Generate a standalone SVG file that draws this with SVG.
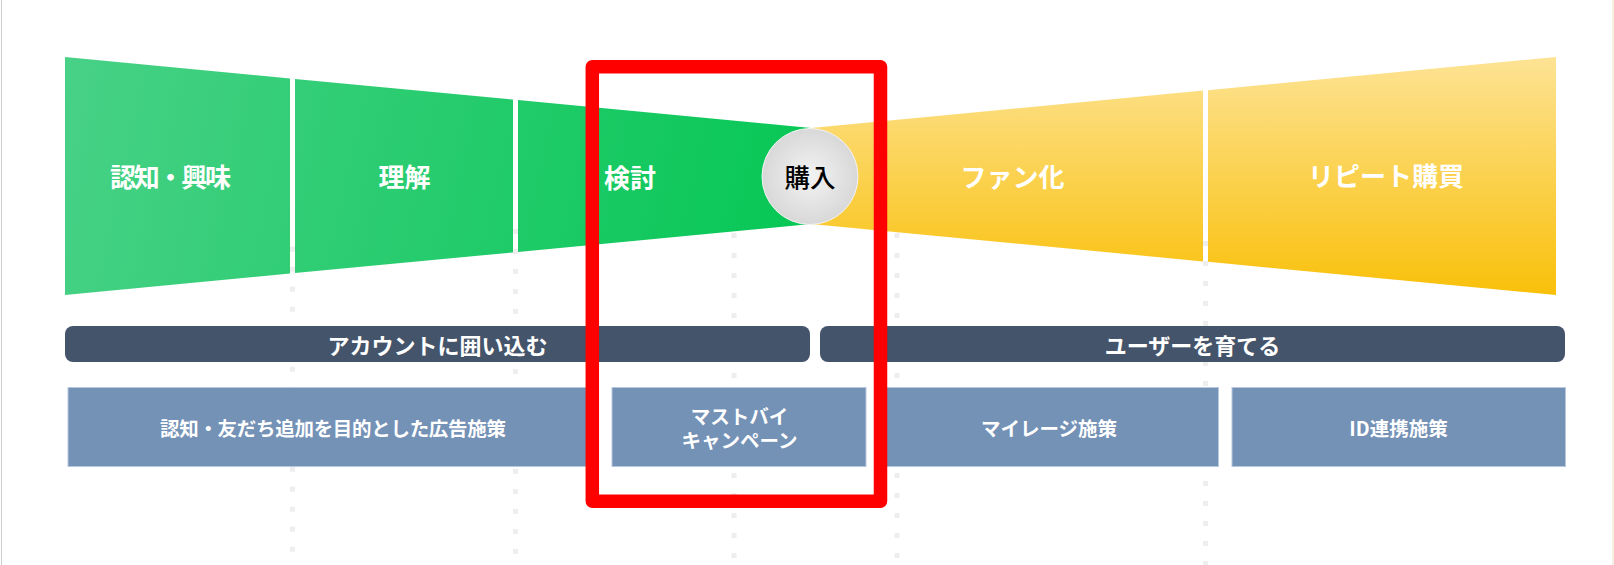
<svg xmlns="http://www.w3.org/2000/svg" width="1614" height="565" viewBox="0 0 1614 565">
  <defs>
    <linearGradient id="gGreen" gradientUnits="userSpaceOnUse" x1="65" y1="57" x2="811" y2="224">
      <stop offset="0" stop-color="#48D187"/>
      <stop offset="1" stop-color="#06C755"/>
    </linearGradient>
    <linearGradient id="gYellow" gradientUnits="userSpaceOnUse" x1="0" y1="57" x2="0" y2="295">
      <stop offset="0" stop-color="#FDE394"/>
      <stop offset="1" stop-color="#F9C00A"/>
    </linearGradient>
    <radialGradient id="gCircle" cx="0.5" cy="0.5" r="0.5">
      <stop offset="0" stop-color="#F3F3F3"/>
      <stop offset="1" stop-color="#D8D8D8"/>
    </radialGradient>
  </defs>
  <style>
    text { font-family: 'Noto Sans CJK JP', 'Noto Sans', sans-serif; text-anchor: middle; dominant-baseline: central; }
    .stage { fill: #FFFFFF; font-size: 26px; font-weight: bold; }
    .bar { fill: #44546A; }
    .barText { fill: #FFFFFF; font-size: 22px; font-weight: bold; }
    .box { fill: #7491B6; stroke: #B6C7DE; stroke-width: 1; }
    .boxText { fill: #FFFFFF; font-size: 19.5px; font-weight: bold; }
    .guide { stroke: #EEEEEE; stroke-width: 5; stroke-dasharray: 5 15; fill: none; }
  </style>

  <rect x="0" y="0" width="1614" height="565" fill="#FFFFFF"/>
  <line x1="1.5" y1="0" x2="1.5" y2="565" stroke="#CCCCCC" stroke-width="1"/>
  <line x1="1613" y1="0" x2="1613" y2="565" stroke="#F2EBD9" stroke-width="1.5"/>

  <g id="connectors">
    <line class="guide" x1="292.5" y1="246.7" x2="292.5" y2="565"/>
    <line class="guide" x1="515.5" y1="229" x2="515.5" y2="565"/>
    <line class="guide" x1="734" y1="233" x2="734" y2="565"/>
    <line class="guide" x1="897" y1="233" x2="897" y2="565"/>
    <line class="guide" x1="1205.5" y1="241" x2="1205.5" y2="565"/>
  </g>

  <g id="stage-ninchi">
    <polygon points="65,57 290,78.4 290,273.6 65,295" fill="url(#gGreen)"/>
    <text class="stage" x="170.5" y="175" textLength="121" lengthAdjust="spacing">認知・興味</text>
  </g>
  <g id="stage-rikai">
    <polygon points="295,78.9 513,99.6 513,252.4 295,273.1" fill="url(#gGreen)"/>
    <text class="stage" x="404.5" y="175">理解</text>
  </g>
  <g id="stage-kento">
    <polygon points="518,100.1 811,128 811,224 518,251.9" fill="url(#gGreen)"/>
    <text class="stage" x="630" y="176">検討</text>
  </g>
  <g id="stage-fan">
    <polygon points="811,128 1203,90.6 1203,261.4 811,224" fill="url(#gYellow)"/>
    <text class="stage" x="1012.5" y="175">ファン化</text>
  </g>
  <g id="stage-repeat">
    <polygon points="1208,90.2 1556,57 1556,295 1208,261.8" fill="url(#gYellow)"/>
    <text class="stage" x="1386" y="174">リピート購買</text>
  </g>
  <g id="node-konyu">
    <circle cx="810" cy="176.5" r="48" fill="url(#gCircle)" stroke="#F4F4F4" stroke-width="1"/>
    <text x="810" y="175" fill="#000000" font-size="25.5" font-weight="500">購入</text>
  </g>

  <g id="bar-account">
    <rect class="bar" x="65" y="326" width="745" height="36" rx="8"/>
    <text class="barText" x="437.5" y="344">アカウントに囲い込む</text>
  </g>
  <g id="bar-user">
    <rect class="bar" x="820" y="326" width="745" height="36" rx="8"/>
    <text class="barText" x="1192.5" y="344">ユーザーを育てる</text>
  </g>

  <g id="box-ad">
    <rect class="box" x="68" y="387.5" width="530.5" height="79"/>
    <text class="boxText" x="333" y="427" textLength="346" lengthAdjust="spacing">認知・友だち追加を目的とした広告施策</text>
  </g>
  <g id="box-mustbuy">
    <rect class="box" x="612" y="387.5" width="254" height="79"/>
    <text class="boxText"><tspan x="739.5" y="415">マストバイ</tspan><tspan x="739.5" y="439">キャンペーン</tspan></text>
  </g>
  <g id="box-mileage">
    <rect class="box" x="879.5" y="387.5" width="339" height="79"/>
    <text class="boxText" x="1049" y="427">マイレージ施策</text>
  </g>
  <g id="box-id">
    <rect class="box" x="1232" y="387.5" width="333.5" height="79"/>
    <text class="boxText" x="1398.5" y="427">ID連携施策</text>
  </g>

  <g id="highlight-frame">
    <rect x="592.3" y="66.7" width="288.2" height="434.6" fill="none" stroke="#FF0000" stroke-width="13.5" stroke-linejoin="round"/>
  </g>
</svg>
